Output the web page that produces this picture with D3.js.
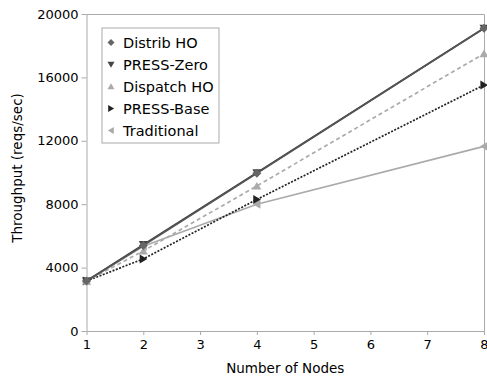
<!DOCTYPE html>
<html lang="en">
<head>
<meta charset="utf-8">
<title>Throughput</title>
<script src="https://cdn.jsdelivr.net/npm/d3@7"></script>
<style>
	body { margin: 0; background: white; }
	svg text { font-family: "DejaVu Sans", sans-serif; font-size: 13.5px; fill: black; }
	.legend text { font-size: 14.5px; }
</style>
</head>
<body>
<div class="chart"></div>
<script>
var nodes = [1, 2, 4, 8];
var distribHO   = [3150, 5400, 9950, 19100];
var pressZero   = [3150, 5450, 9980, 19100];
var dispatchHO  = [3150, 5050, 9150, 17500];
var pressBase   = [3150, 4550, 8300, 15520];
var traditional = [3150, 5350, 8000, 11650];
var yTicks = [0, 4000, 8000, 12000, 16000, 20000];
var xTicks = [1, 2, 3, 4, 5, 6, 7, 8];

var series = [
	{name: "Distrib HO", values: distribHO},
	{name: "PRESS-Zero", values: pressZero},
	{name: "Dispatch HO", values: dispatchHO},
	{name: "PRESS-Base", values: pressBase},
	{name: "Traditional", values: traditional}
];
// drawing style per series (kept out of the data arrays)
var styles = {
	"Distrib HO":  {line: "#555", dash: null,  marker: "diamond", fill: "#666"},
	"PRESS-Zero":  {line: "#3a3a3a", dash: null,  marker: "down", fill: "#444"},
	"Dispatch HO": {line: "#aaa", dash: "4,3", marker: "up", fill: "#aaa"},
	"PRESS-Base":  {line: "#222", dash: "2,1.5", marker: "right", fill: "#222"},
	"Traditional": {line: "#aaa", dash: null,  marker: "left", fill: "#aaa"}
};

var w = 487, h = 383;
var padL = 86.5, padR = 484, padT = 14, padB = 331;

var svg = d3.select("div.chart").append("svg")
	.attr("width", w).attr("height", h);

var x = d3.scaleLinear().domain([1, 8]).range([padL, padR]);
var y = d3.scaleLinear().domain([0, 20000]).range([padB, padT]);

// frame (top and right)
svg.append("path")
	.attr("d", "M" + padL + "," + (padT + 0.5) + "H" + (padR + 0.5) + "V" + padB)
	.attr("fill", "none").attr("stroke", "#aaa");

svg.append("g").attr("class", "axis")
	.attr("transform", "translate(" + padL + ",0)")
	.call(d3.axisLeft(y).tickValues(yTicks).tickFormat(d3.format("d")).tickSizeInner(5).tickSizeOuter(0).tickPadding(3));

svg.append("g").attr("class", "axis")
	.attr("transform", "translate(0," + padB + ")")
	.call(d3.axisBottom(x).tickValues(xTicks).tickFormat(d3.format("d")).tickSizeInner(4).tickSizeOuter(0).tickPadding(5));

svg.selectAll(".axis text").attr("fill", "black").style("font-size", "13px").attr("font-family", null);
svg.selectAll(".axis .domain, .axis line").attr("stroke", "#aaa");

svg.append("text")
	.attr("x", (padL + padR) / 2).attr("y", 373)
	.attr("text-anchor", "middle")
	.text("Number of Nodes");

svg.append("text")
	.attr("transform", "translate(22,168) rotate(-90)")
	.attr("text-anchor", "middle")
	.text("Throughput (reqs/sec)");

function markerPath(type, s) {
	if (type === "diamond") return "M0," + (-s) + "L" + s + ",0L0," + s + "L" + (-s) + ",0Z";
	if (type === "down") return "M" + (-s) + "," + (-s * 0.8) + "L" + s + "," + (-s * 0.8) + "L0," + (s * 0.9) + "Z";
	if (type === "up") return "M" + (-s) + "," + (s * 0.8) + "L" + s + "," + (s * 0.8) + "L0," + (-s * 0.9) + "Z";
	if (type === "right") return "M" + (-s * 0.8) + "," + (-s) + "L" + (-s * 0.8) + "," + s + "L" + (s * 0.9) + ",0Z";
	return "M" + (s * 0.8) + "," + (-s) + "L" + (s * 0.8) + "," + s + "L" + (-s * 0.9) + ",0Z";
}

var line = d3.line().x((d, i) => x(nodes[i])).y(d => y(d));

// draw back to front
var order = ["Traditional", "PRESS-Base", "Dispatch HO", "PRESS-Zero", "Distrib HO"];
order.forEach(function(name) {
	var s = series.find(d => d.name === name);
	var st = styles[name];
	svg.append("path")
		.datum(s.values)
		.attr("d", line)
		.attr("fill", "none")
		.attr("stroke", st.line)
		.attr("stroke-width", 1.7)
		.attr("stroke-dasharray", st.dash);
	svg.selectAll(null)
		.data(s.values)
		.enter()
		.append("path")
		.attr("transform", (d, i) => "translate(" + x(nodes[i]) + "," + y(d) + ")")
		.attr("d", markerPath(st.marker, 4.5))
		.attr("fill", st.fill);
});

// legend
var legend = svg.append("g").attr("class", "legend").attr("transform", "translate(102,28)");
legend.append("rect")
	.attr("x", 0).attr("y", 0).attr("width", 117).attr("height", 115)
	.attr("fill", "white").attr("stroke", "#aaa");
series.forEach(function(s, i) {
	var st = styles[s.name];
	var yy = 14.5 + i * 22;
	legend.append("path")
		.attr("transform", "translate(9," + yy + ")")
		.attr("d", markerPath(st.marker, 3.5))
		.attr("fill", st.fill);
	legend.append("text")
		.attr("x", 21).attr("y", yy).attr("dy", "0.35em")
		.text(s.name);
});
</script>
</body>
</html>
